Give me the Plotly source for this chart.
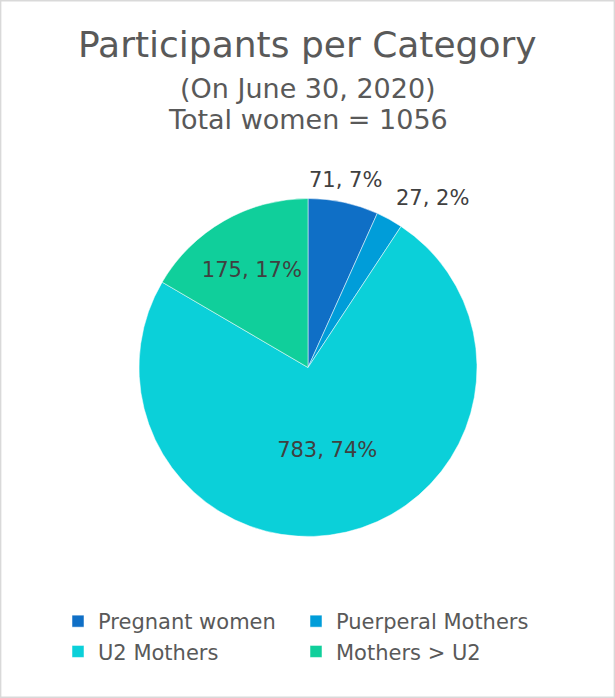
import math
import plotly.graph_objects as go

categories = ["Pregnant women", "Puerperal Mothers", "U2 Mothers", "Mothers > U2"]
values = [71, 27, 783, 175]
percent_labels = ["7%", "2%", "74%", "17%"]
colors = ["#0F6FC6", "#009DD9", "#0BD0D9", "#10CF9B"]
outside = [True, True, False, False]

title_lines = ["Participants per Category", "(On June 30, 2020)", "Total women = 1056"]

W, H = 615, 698
FONT = "'DejaVu Sans', sans-serif"
TXT = "#595959"
LBL = "#404040"

# pie placement (pixels)
cx, cy, R = 308, 367.5, 169
dom_x = [(cx - R) / W, (cx + R) / W]
dom_y = [(H - cy - R) / H, (H - cy + R) / H]

labels_text = [f"{v}, {p}" for v, p in zip(values, percent_labels)]

fig = go.Figure(go.Pie(
    labels=categories,
    values=values,
    text=labels_text,
    marker=dict(colors=colors, line=dict(color="white", width=0.5)),
    sort=False,
    direction="clockwise",
    rotation=0,
    texttemplate="%{text}",
    textposition=["none" if o else "inside" for o in outside],
    insidetextorientation="horizontal",
    textfont=dict(size=21, color=LBL, family=FONT),
    domain=dict(x=dom_x, y=dom_y),
    hoverinfo="label+value+percent",
))

# outside labels for the small slices, positioned from the slice mid-angles
total = sum(values)
annotations = []
cum = 0
for v, t, o in zip(values, labels_text, outside):
    mid = (cum + v / 2) / total * 2 * math.pi
    cum += v
    if not o:
        continue
    rr = R * 1.05
    px = cx + rr * math.sin(mid)
    py = cy - rr * math.cos(mid)
    xanchor = "center" if math.sin(mid) < 0.35 else "left"
    annotations.append(dict(
        text=t, showarrow=False, xref="paper", yref="paper",
        x=px / W, y=1 - py / H, xanchor=xanchor, yanchor="bottom",
        font=dict(size=21, color=LBL, family=FONT),
    ))

title_y = [45, 89, 119]
title_size = [36, 27, 27]
for line, yy, sz in zip(title_lines, title_y, title_size):
    annotations.append(dict(
        text=line, showarrow=False, xref="paper", yref="paper",
        x=0.5, y=1 - yy / H, xanchor="center", yanchor="middle",
        font=dict(size=sz, color=TXT, family=FONT),
    ))

fig.update_layout(
    width=W, height=H,
    margin=dict(l=0, r=0, t=0, b=0, autoexpand=False),
    paper_bgcolor="white",
    plot_bgcolor="white",
    font=dict(family=FONT, color=TXT),
    showlegend=True,
    legend=dict(
        orientation="h",
        x=58 / W, xanchor="left",
        y=1 - 601 / H, yanchor="top",
        entrywidth=193, entrywidthmode="pixels",
        font=dict(size=21, color=TXT, family=FONT),
        traceorder="normal",
    ),
    annotations=annotations,
    shapes=[dict(type="rect", xref="paper", yref="paper", x0=0.001, y0=0.001, x1=0.999, y1=0.999,
                 line=dict(color="#D9D9D9", width=1.5), fillcolor="rgba(0,0,0,0)")],
)

fig.write_html("out.html", config={"displayModeBar": False},
               post_script="document.body.style.margin='0';")
